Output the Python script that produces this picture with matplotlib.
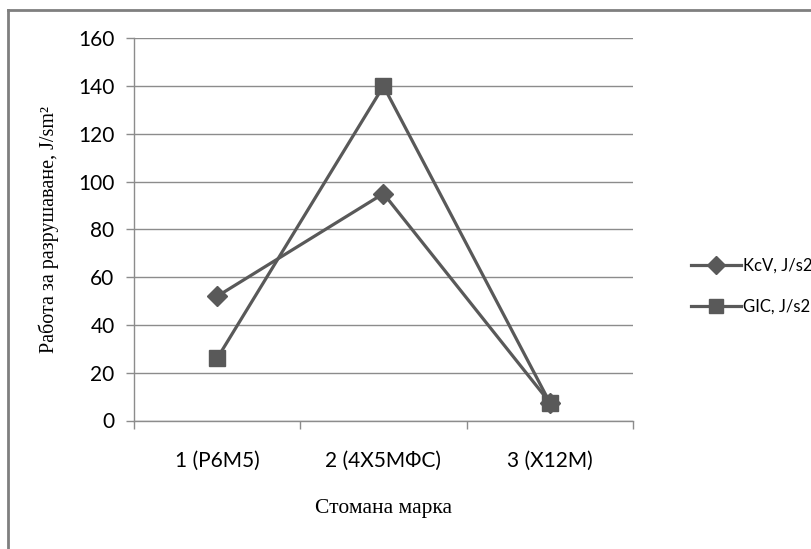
import matplotlib
matplotlib.use("Agg")
import matplotlib.pyplot as plt
from matplotlib.lines import Line2D

categories = ["1 (Р6М5)", "2 (4Х5МФС)", "3 (Х12М)"]
kcv = [52, 95, 7.5]
gic = [26, 140, 7.5]
series_names = ["KcV, J/s2", "GIC, J/s2"]
yticks = [0, 20, 40, 60, 80, 100, 120, 140, 160]

W, H = 812, 549
fig = plt.figure(figsize=(W / 100, H / 100), dpi=100)
fig.patch.set_facecolor("white")

# outer chart frame (left and top edges visible)
fig.add_artist(Line2D([8 / W, 8 / W], [0, 1 - 10 / H], color="#7f7f7f", lw=2, transform=fig.transFigure))
fig.add_artist(Line2D([8 / W, 1], [1 - 10 / H, 1 - 10 / H], color="#7f7f7f", lw=2, transform=fig.transFigure))

ax = fig.add_axes([134 / W, 1 - 420.5 / H, (633 - 134) / W, (420.5 - 38.3) / H])

line_color = "#595959"
x = list(range(len(categories)))
ax.plot(x, kcv, color=line_color, lw=2.3, marker="D", ms=10, label=series_names[0], zorder=3)
ax.plot(x, gic, color=line_color, lw=2.3, marker="s", ms=11, label=series_names[1], zorder=3)

ax.set_xlim(-0.5, len(categories) - 0.5)
ax.set_ylim(0, 160)
ax.set_yticks(yticks)
ax.yaxis.grid(True, color="#8c8c8c", lw=1)
ax.set_axisbelow(True)

ax.set_xticks(x)
ax.set_xticklabels(categories, fontsize=15, family="Lato")
ax.tick_params(axis="x", which="major", length=0, pad=22)
ax.set_xticks([i - 0.5 for i in range(len(categories) + 1)], minor=True)
ax.tick_params(axis="x", which="minor", length=6, color="#8c8c8c", width=1)
ax.tick_params(axis="y", length=6, color="#8c8c8c", width=1, labelsize=15, pad=8)
for lab in ax.get_yticklabels():
    lab.set_family("Lato")

for s in ["top", "right"]:
    ax.spines[s].set_visible(False)
for s in ["left", "bottom"]:
    ax.spines[s].set_color("#8c8c8c")
    ax.spines[s].set_linewidth(1)

ax.set_xlabel("Стомана марка", family="Liberation Serif", fontsize=15.5, labelpad=20)
ax.set_ylabel("Работа за разрушаване, J/sm²", family="Liberation Serif", fontsize=14.5, labelpad=14)

leg = fig.legend(loc="center left", bbox_to_anchor=(676 / W, 1 - 286 / H), frameon=False,
                 prop={"family": "Lato", "size": 12}, handlelength=3.0, handletextpad=0.15,
                 labelspacing=1.5, markerscale=0.9)

fig.savefig("out.png", dpi=100)
